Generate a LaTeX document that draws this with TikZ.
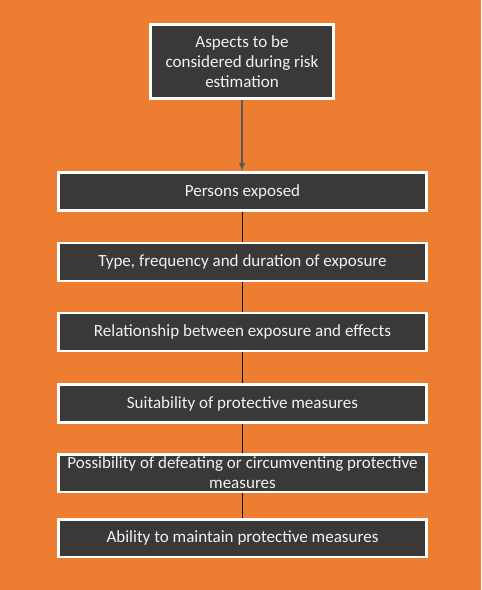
\documentclass[tikz,border=0pt]{standalone}
\usepackage{fontspec}
\setmainfont{Carlito}
\usetikzlibrary{arrows}
\usetikzlibrary{positioning}
\definecolor{riskorange}{HTML}{ED7D31}
\definecolor{boxgray}{HTML}{3A3938}
\definecolor{textwhite}{HTML}{F2F2F2}
\definecolor{arrowgray}{HTML}{595959}
\tikzstyle{aspect}=[draw=white, line width=1.7pt, fill=boxgray, text=textwhite,
                   align=center, inner sep=0pt,
                   font=\fontsize{9.7}{11.4}\selectfont]
\tikzstyle{topbox}=[aspect, minimum width=3.66cm, minimum height=1.48cm]
\tikzstyle{rowbox}=[aspect, minimum width=7.38cm, minimum height=0.76cm]

\begin{document}
\begin{tikzpicture}[x=0.02cm, y=-0.02cm, thick]
      \useasboundingbox (0,0) rectangle (481,590);
      \fill[riskorange] (0,0) rectangle (481,590);
      % Place the heading box
      \node[topbox] (aspects) at (242,61.5) {Aspects to be\\considered during risk\\estimation};
      %
      % Place the aspect rows
      \foreach \place/\name/\label in {{(242.5,191.5)/persons/Persons exposed},
          {(242.5,262)/exposure/Type, frequency and duration of exposure},
          {(242.5,332)/effects/Relationship between exposure and effects},
          {(242.5,403.5)/suitability/Suitability of protective measures},
          {(242.5,473)/defeating/Possibility of defeating or circumventing protective\\measures},
          {(242.5,538)/maintain/Ability to maintain protective measures}}
        \node[rowbox] (\name) at \place {\label};
      %
      % Connect them
      \draw[arrowgray, line width=0.6pt, -latex] (aspects.south) -- (aspects.south |- persons.north);
      \foreach \source/\dest in {persons/exposure, exposure/effects, effects/suitability,
                                 suitability/defeating, defeating/maintain}
        \draw[black, line width=1.1pt] (\source) -- (\dest);
    \end{tikzpicture}
\end{document}
